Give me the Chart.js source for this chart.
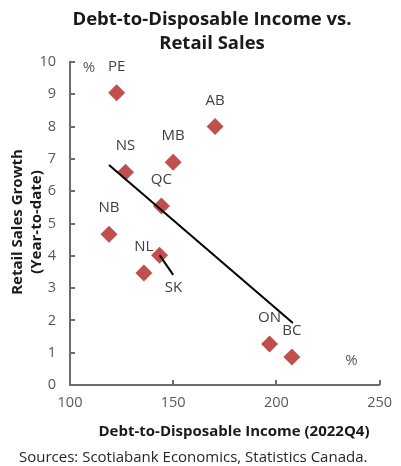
<!DOCTYPE html>
<html>
<head>
<meta charset="utf-8">
<script src="https://cdn.jsdelivr.net/npm/chart.js@4/dist/chart.umd.min.js"></script>
<style>
  html, body { margin: 0; padding: 0; background: #fff; }
  #wrap { width: 401px; height: 466px; }
</style>
</head>
<body>
<div id="wrap"><canvas id="c" width="401" height="466"></canvas></div>
<script>
// ---- Data ----
const provinces = ['PE', 'AB', 'MB', 'NS', 'QC', 'NB', 'SK', 'NL', 'ON', 'BC'];
const debtToIncome = [122.6, 170.3, 150.0, 126.9, 144.3, 118.9, 143.4, 135.8, 196.7, 207.5];
const retailGrowth = [9.05, 8.0, 6.9, 6.59, 5.54, 4.67, 4.02, 3.47, 1.27, 0.87];
const trendX = [118.9, 208.0];
const trendY = [6.81, 1.92];
const skLeaderX = [143.4, 150.0];
const skLeaderY = [4.02, 3.41];
const xTicks = [100, 150, 200, 250];
const yTicks = [0, 1, 2, 3, 4, 5, 6, 7, 8, 9, 10];

const titleLines = ['Debt-to-Disposable Income vs.', 'Retail Sales'];
const xTitle = 'Debt-to-Disposable Income (2022Q4)';
const yTitleLines = ['Retail Sales Growth', '(Year-to-date)'];
const sourceText = 'Sources: Scotiabank Economics, Statistics Canada.';

// ---- Styles ----
const FONT = '"Open Sans", "Noto Sans", sans-serif';
const AXIS_COLOR = '#6b6b6b';
const TICK_COLOR = '#595959';
const MARK_COLOR = '#C0504D';
const labelOffsets = { SK: [14, 33] };
const defaultOffset = [0, -26];

const scatterPts = provinces.map((p, i) => ({ x: debtToIncome[i], y: retailGrowth[i] }));
const trendPts = trendX.map((x, i) => ({ x, y: trendY[i] }));
const leaderPts = skLeaderX.map((x, i) => ({ x, y: skLeaderY[i] }));

const decorPlugin = {
  id: 'decor',
  afterDatasetsDraw(chart) {
    const ctx = chart.ctx;
    const xs = chart.scales.x, ys = chart.scales.y;
    const ca = chart.chartArea;
    ctx.save();
    // inward tick marks
    ctx.strokeStyle = AXIS_COLOR;
    ctx.lineWidth = 2;
    ctx.beginPath();
    yTicks.forEach(v => {
      if (v === 0) return;
      const py = Math.round(ys.getPixelForValue(v));
      ctx.moveTo(ca.left, py); ctx.lineTo(ca.left + 5, py);
    });
    xTicks.forEach(v => {
      if (v === xTicks[0]) return;
      const px = Math.round(xs.getPixelForValue(v));
      ctx.moveTo(px, ca.bottom); ctx.lineTo(px, ca.bottom - 5);
    });
    ctx.stroke();

    // point labels
    ctx.fillStyle = '#404040';
    ctx.font = '15px ' + FONT;
    ctx.textAlign = 'center';
    ctx.textBaseline = 'middle';
    provinces.forEach((p, i) => {
      const off = labelOffsets[p] || defaultOffset;
      const px = xs.getPixelForValue(debtToIncome[i]);
      const py = ys.getPixelForValue(retailGrowth[i]);
      ctx.fillText(p, px + off[0], py + off[1]);
    });

    // percent markers
    ctx.fillStyle = TICK_COLOR;
    ctx.fillText('%', ca.left + 19, ca.top + 6);
    ctx.fillText('%', ca.right - 28, ca.bottom - 24);

    // title
    ctx.fillStyle = '#1a1a1a';
    ctx.font = 'bold 18.5px ' + FONT;
    ctx.fillText(titleLines[0], 212, 20);
    ctx.fillText(titleLines[1], 212, 44);

    // x axis title
    ctx.font = 'bold 15px ' + FONT;
    ctx.fillText(xTitle, 234, 432);

    // y axis title
    ctx.save();
    ctx.translate(18, 222);
    ctx.rotate(-Math.PI / 2);
    ctx.fillText(yTitleLines[0], 0, 0);
    ctx.fillText(yTitleLines[1], 0, 19);
    ctx.restore();

    // source
    ctx.fillStyle = '#262626';
    ctx.font = '15px ' + FONT;
    ctx.textAlign = 'left';
    ctx.fillText(sourceText, 19, 458);
    ctx.restore();
  }
};

new Chart(document.getElementById('c'), {
  type: 'scatter',
  data: {
    datasets: [
      {
        type: 'line', data: trendPts, borderColor: '#000', borderWidth: 2,
        pointRadius: 0, fill: false, order: 0
      },
      {
        type: 'line', data: leaderPts, borderColor: '#000', borderWidth: 2,
        pointRadius: 0, fill: false, order: 0
      },
      {
        data: scatterPts, pointStyle: 'rectRot', pointRadius: 8.5,
        backgroundColor: MARK_COLOR, borderColor: MARK_COLOR, borderWidth: 0, order: 1
      }
    ]
  },
  options: {
    responsive: false,
    animation: false,
    devicePixelRatio: 1,
    layout: { padding: { top: 62, right: 13, bottom: 0, left: 0 } },
    plugins: { legend: { display: false }, tooltip: { enabled: false }, title: { display: false } },
    scales: {
      x: {
        type: 'linear', min: 100, max: 250,
        afterFit(s) { s.height = 81; },
        afterBuildTicks(s) { s.ticks = xTicks.map(v => ({ value: v })); },
        grid: { display: false, drawTicks: false },
        border: { display: true, color: AXIS_COLOR, width: 2 },
        ticks: { color: TICK_COLOR, font: { family: FONT, size: 14.5 }, padding: 9, maxRotation: 0 }
      },
      y: {
        type: 'linear', min: 0, max: 10,
        afterFit(s) { s.width = 70; },
        afterBuildTicks(s) { s.ticks = yTicks.map(v => ({ value: v })); },
        grid: { display: false, drawTicks: false },
        border: { display: true, color: AXIS_COLOR, width: 2 },
        ticks: { color: TICK_COLOR, font: { family: FONT, size: 14.5 }, padding: 14 }
      }
    }
  },
  plugins: [decorPlugin]
});
</script>
</body>
</html>
